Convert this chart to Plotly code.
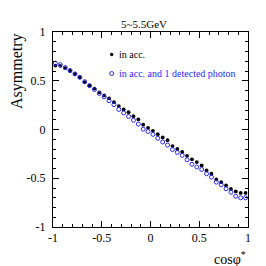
import plotly.graph_objects as go

cos_phi = [-0.975, -0.925, -0.875, -0.825, -0.775, -0.725, -0.675, -0.625, -0.575, -0.525,
           -0.475, -0.425, -0.375, -0.325, -0.275, -0.225, -0.175, -0.125, -0.075, -0.025,
           0.025, 0.075, 0.125, 0.175, 0.225, 0.275, 0.325, 0.375, 0.425, 0.475,
           0.525, 0.575, 0.625, 0.675, 0.725, 0.775, 0.825, 0.875, 0.925, 0.975]

asym_acc = [0.656, 0.653, 0.629, 0.600, 0.570, 0.536, 0.485, 0.450, 0.420, 0.380,
            0.350, 0.320, 0.280, 0.240, 0.206, 0.178, 0.137, 0.103, 0.050, 0.017,
            -0.014, -0.048, -0.082, -0.110, -0.170, -0.200, -0.230, -0.270, -0.306, -0.334,
            -0.368, -0.420, -0.454, -0.512, -0.540, -0.574, -0.610, -0.635, -0.650, -0.650]

asym_photon = [0.680, 0.665, 0.635, 0.605, 0.570, 0.535, 0.490, 0.450, 0.410, 0.370,
               0.335, 0.295, 0.255, 0.206, 0.170, 0.134, 0.095, 0.055, 0.003, -0.020,
               -0.050, -0.090, -0.128, -0.160, -0.206, -0.235, -0.265, -0.310, -0.357, -0.385,
               -0.410, -0.454, -0.488, -0.540, -0.567, -0.608, -0.643, -0.684, -0.700, -0.700]

title_text = "5~5.5GeV"
legend_labels = ["in acc.", "in acc. and 1 detected photon"]
x_ticks = [-1, -0.5, 0, 0.5, 1]
x_ticklabels = ["-1", "-0.5", "0", "0.5", "1"]
y_ticks = [-1, -0.5, 0, 0.5, 1]
y_ticklabels = ["-1", "-0.5", "0", "0.5", "1"]

BLUE = "rgb(40,40,255)"
FONT = "Liberation Serif"

fig = go.Figure()
fig.add_trace(go.Scatter(x=cos_phi, y=asym_acc, mode="markers",
                         marker=dict(symbol="circle", size=3.8, color="black"),
                         showlegend=False))
fig.add_trace(go.Scatter(x=cos_phi, y=asym_photon, mode="markers",
                         marker=dict(symbol="circle-open", size=4, color=BLUE,
                                     line=dict(width=1, color=BLUE)),
                         showlegend=False))

axis_common = dict(
    showgrid=False, zeroline=False, showline=True, linecolor="black", linewidth=1,
    mirror="ticks", ticks="inside", ticklen=6, tickcolor="black", tickwidth=1,
    tickfont=dict(family=FONT, size=12, color="black"),
    minor=dict(ticks="inside", ticklen=3, dtick=0.1, tickcolor="black", tickwidth=1),
)

fig.update_xaxes(range=[-1, 1], tickvals=x_ticks, ticktext=x_ticklabels,
                 ticklabelstandoff=0, **axis_common)
fig.update_yaxes(range=[-1, 1], tickvals=y_ticks, ticktext=y_ticklabels,
                 ticklabelstandoff=4, **axis_common)

# Legend (drawn manually to match the compact ROOT style)
leg_x = (111.7 - 53) / 195
leg_y = [(227 - 54.5) / 195, (227 - 73.5) / 195]
fig.add_shape(type="circle", xref="paper", yref="paper",
              x0=leg_x - 1.7 / 195, x1=leg_x + 1.7 / 195,
              y0=leg_y[0] - 1.7 / 195, y1=leg_y[0] + 1.7 / 195,
              fillcolor="black", line=dict(color="black", width=0))
fig.add_shape(type="circle", xref="paper", yref="paper",
              x0=leg_x - 2.0 / 195, x1=leg_x + 2.0 / 195,
              y0=leg_y[1] - 2.0 / 195, y1=leg_y[1] + 2.0 / 195,
              fillcolor="rgba(0,0,0,0)", line=dict(color=BLUE, width=1))
fig.add_annotation(x=(116.5 - 53) / 195, y=leg_y[0], xref="paper", yref="paper",
                   text=legend_labels[0], showarrow=False, xanchor="left", yanchor="middle",
                   font=dict(family=FONT, size=10, color="black"))
fig.add_annotation(x=(116.5 - 53) / 195, y=leg_y[1], xref="paper", yref="paper",
                   text=legend_labels[1], showarrow=False, xanchor="left", yanchor="middle",
                   font=dict(family=FONT, size=10, color=BLUE))

# Title
fig.add_annotation(x=(143.5 - 53) / 195, y=(227 - 24) / 195, xref="paper", yref="paper",
                   text=title_text, showarrow=False, xanchor="center", yanchor="middle",
                   font=dict(family=FONT, size=11, color="black"))

# Axis titles (ROOT style)
fig.add_annotation(x=(17 - 53) / 195, y=(227 - 31) / 195, xref="paper", yref="paper",
                   text="Asymmetry", textangle=-90, showarrow=False,
                   xanchor="center", yanchor="top",
                   font=dict(family=FONT, size=16, color="black"))
fig.add_annotation(x=1.0, y=(227 - 258) / 195, xref="paper", yref="paper",
                   text="cosφ<sup>*</sup>", showarrow=False,
                   xanchor="right", yanchor="middle",
                   font=dict(family=FONT, size=14, color="black"))

fig.update_layout(
    width=266, height=266,
    margin=dict(l=53, r=18, t=32, b=39),
    paper_bgcolor="white", plot_bgcolor="white",
    showlegend=False,
)

fig.write_html("out.html", config={"displayModeBar": False, "staticPlot": True},
               post_script="document.body.style.margin='0px';document.body.style.padding='0px';")
